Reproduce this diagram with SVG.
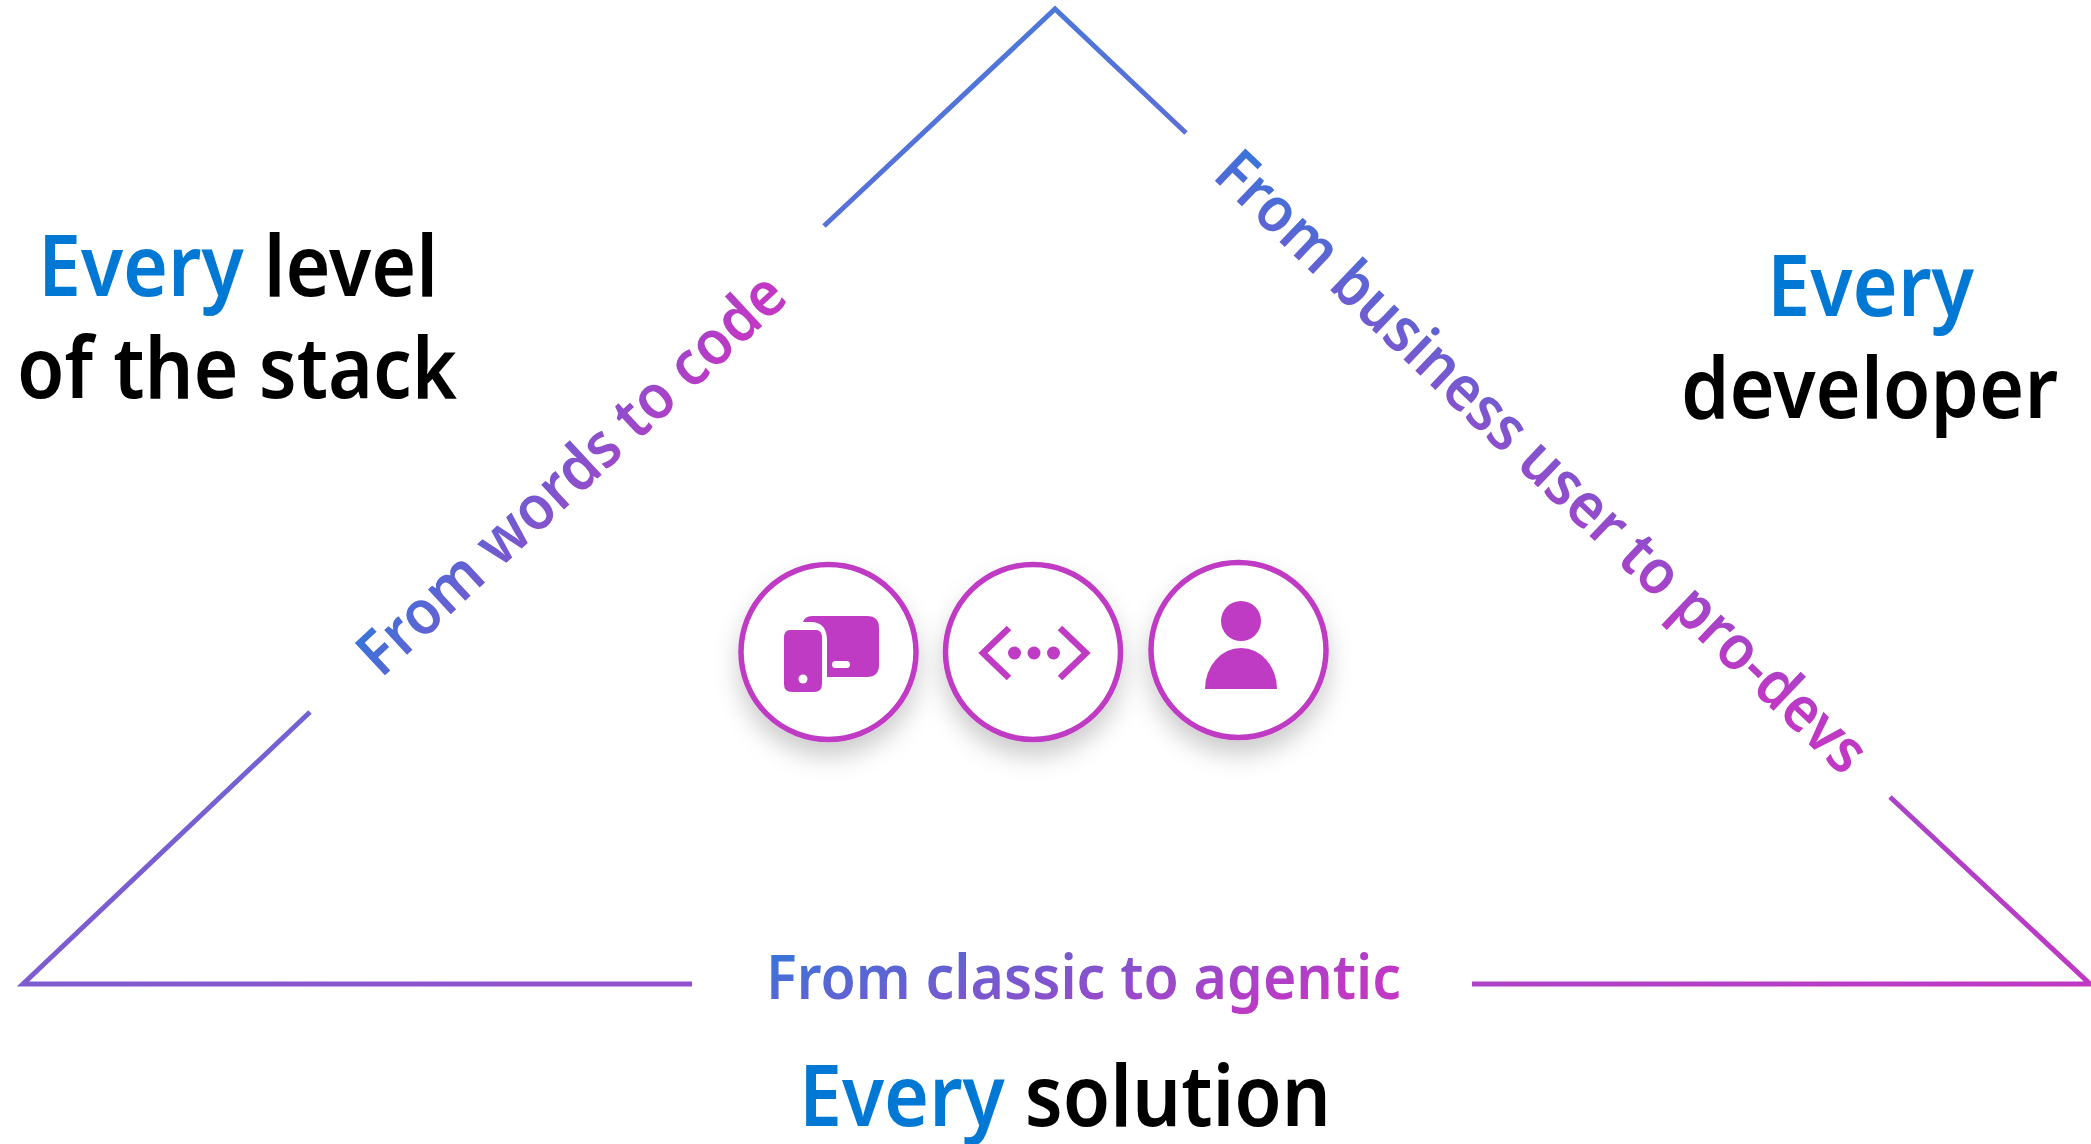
<svg xmlns="http://www.w3.org/2000/svg" width="2091" height="1144" viewBox="0 0 2091 1144">
<style>
text{font-family:"Noto Sans","Liberation Sans",sans-serif;font-weight:600}
.h{font-size:84px;fill:#000}
.e{fill:#0078d4}
.g{font-size:62px;fill:url(#tg);font-weight:600}
.ln{fill:none;stroke:url(#lg);stroke-width:5}
.c{fill:#fff;stroke:#bf3bc4;stroke-width:5.5;filter:url(#sh)}
.i{fill:#bf3bc4}
</style>
<defs>
<linearGradient id="lg" gradientUnits="userSpaceOnUse" x1="1046" y1="-16" x2="1495" y2="1204"><stop offset="0" stop-color="#4a78da"/><stop offset="1" stop-color="#c038c4"/></linearGradient>
<linearGradient id="tg" x1="0" y1="0" x2="1" y2=".4"><stop offset="0" stop-color="#2a7bdb"/><stop offset="1" stop-color="#c038c4"/></linearGradient>
<filter id="sh" x="-30%" y="-30%" width="160%" height="175%"><feDropShadow dx="0" dy="14" stdDeviation="12" flood-color="#000" flood-opacity=".2"/></filter>
</defs>
<g id="connectors">
<path class="ln" d="M824 226L1055 9L1186 133"/>
<path class="ln" d="M310 712L23 984L692 984"/>
<path class="ln" d="M1472 984L2090 984L1890 797"/>
</g>
<g id="label-left"><text class="h" x="38" y="296" textLength="400" lengthAdjust="spacingAndGlyphs"><tspan class="e">Every</tspan> level</text><text class="h" x="17" y="398" textLength="440" lengthAdjust="spacingAndGlyphs">of the stack</text></g>
<g id="label-right"><text class="h e" x="1767" y="316" textLength="207" lengthAdjust="spacingAndGlyphs">Every</text><text class="h" x="1681" y="418" textLength="377" lengthAdjust="spacingAndGlyphs">developer</text></g>
<g id="label-bottom"><text class="h" x="799" y="1126" textLength="532" lengthAdjust="spacingAndGlyphs"><tspan class="e">Every</tspan> solution</text></g>
<text class="g" transform="translate(381 679) rotate(-42.8)" textLength="558" lengthAdjust="spacingAndGlyphs">From words to code</text>
<text class="g" transform="translate(1211 177) rotate(43.5)" textLength="872" lengthAdjust="spacingAndGlyphs">From business user to pro-devs</text>
<text class="g" x="766" y="999" textLength="635" lengthAdjust="spacingAndGlyphs">From classic to agentic</text>
<g id="node-devices"><circle class="c" cx="828.5" cy="652" r="87.5"/>
<path class="i" d="M803 622q2-6 9-6h55q12 0 12 12v37q0 12-12 12h-40v-36q0-19-16-19zM790 630h26q6 0 6 8v46q0 8-8 8h-22q-8 0-8-8v-46q0-8 6-8z"/>
<rect x="832" y="661" width="18" height="7" rx="3.5" fill="#fff"/><circle cx="803" cy="679" r="4.5" fill="#fff"/></g>
<g id="node-code"><circle class="c" cx="1033" cy="652" r="87.5"/>
<path d="M1009 628L983 653L1009 678M1060 628L1086 653L1060 678" fill="none" stroke="#bf3bc4" stroke-width="6.5"/>
<circle class="i" cx="1014.5" cy="653" r="6.5"/><circle class="i" cx="1034" cy="653" r="6.5"/><circle class="i" cx="1053.5" cy="653" r="6.5"/></g>
<g id="node-user"><circle class="c" cx="1238.5" cy="650" r="87.5"/>
<circle class="i" cx="1241" cy="621" r="20"/><path class="i" d="M1205 689a36 41 0 0 1 72 0z"/></g>
</svg>
